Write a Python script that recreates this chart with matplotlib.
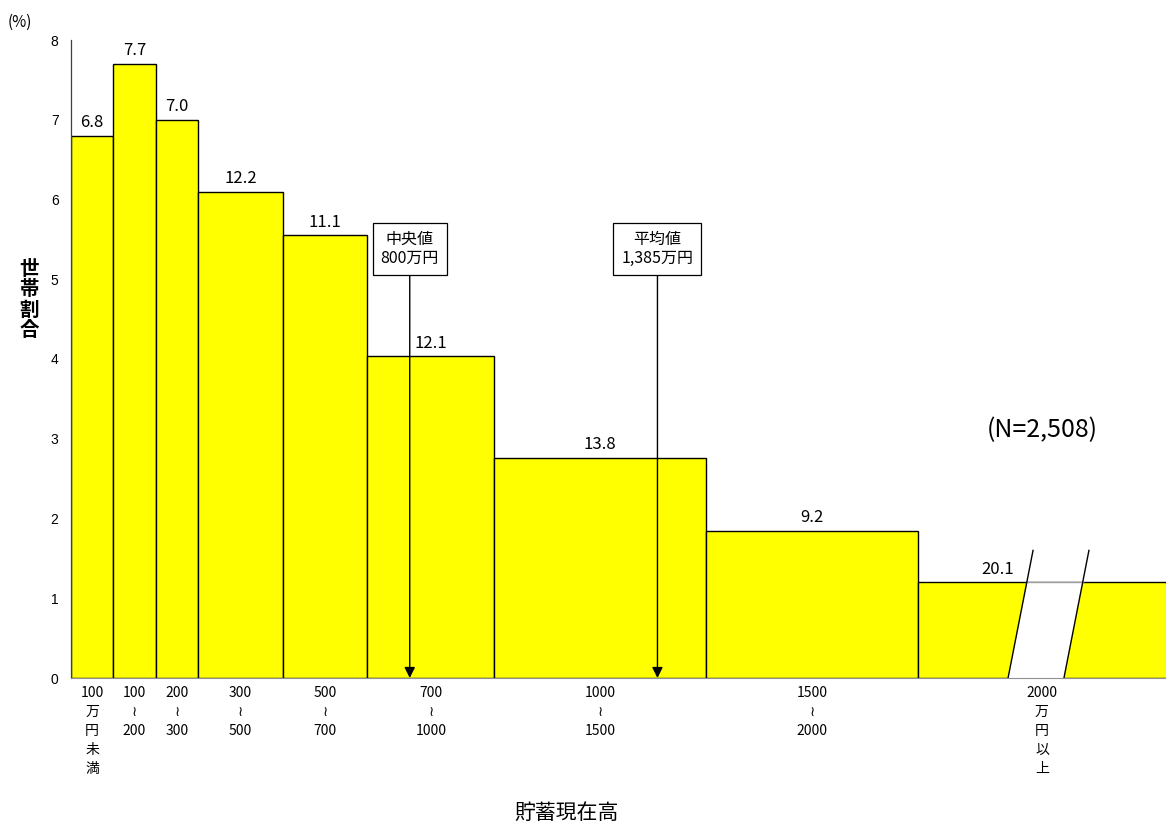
import numpy as np
import matplotlib
matplotlib.use("Agg")
import matplotlib.pyplot as plt
from matplotlib.patches import Polygon

plt.rcParams['font.family'] = ['Noto Sans CJK JP', 'DejaVu Sans']

# 貯蓄現在高の階級（万円）と世帯割合（%）
edges = [0, 100, 200, 300, 500, 700, 1000, 1500, 2000]
shares = [6.8, 7.7, 7.0, 12.2, 11.1, 12.1, 13.8, 9.2, 20.1]
open_width = 1675  # 2000万円以上は開放階級なので見かけの幅で描く
tick_labels = ["100\n万\n円\n未\n満", "100\n≀\n200", "200\n≀\n300",
               "300\n≀\n500", "500\n≀\n700", "700\n≀\n1000",
               "1000\n≀\n1500", "1500\n≀\n2000", "2000\n万\n円\n以\n上"]
median = 800
mean = 1385
n_households = 2508

lefts = np.array(edges, dtype=float)
widths = np.append(np.diff(edges), open_width).astype(float)
heights = np.array(shares) / (widths / 100)  # 100万円あたりの割合

x_end = 2586

fig = plt.figure(figsize=(11.66, 8.25), dpi=100)
ax = fig.add_axes([71 / 1166, 1 - 678 / 825, 1095 / 1166, 638 / 825])

ax.bar(lefts, heights, width=widths, align='edge', color='#ffff00',
       edgecolor='black', linewidth=1.0, zorder=2)

# 値ラベル
bx = 2213      # 省略記号の位置
gap = 132
dx = 59
for i, (l, w, h, s) in enumerate(zip(lefts, widths, heights, shares)):
    if i < len(shares) - 1:
        x = l + w / 2
    else:
        x = bx - 25
    ax.text(x, h + 0.06, f"{s:.1f}", ha='center', va='bottom', fontsize=12)

# 2000万円以上の棒の省略（斜線で切る）
h_last = heights[-1]
k = dx / 1.6
gap_poly = Polygon([(bx, 0), (bx + gap, 0), (bx + gap + k * h_last, h_last),
                    (bx + k * h_last, h_last)], closed=True,
                   facecolor='white', edgecolor='none', zorder=3)
ax.add_patch(gap_poly)
ax.plot([bx + k * h_last, bx + gap + k * h_last], [h_last, h_last],
        color='#a0a0a0', lw=1.0, zorder=3.5)
for x0 in (bx, bx + gap):
    ax.plot([x0, x0 + dx], [0, 1.6], color='black', lw=1.0, zorder=4,
            clip_on=False)

# 中央値・平均値
box = dict(boxstyle='square,pad=0.5', fc='white', ec='black', lw=0.9)
arrow = dict(arrowstyle='-|>', color='black', lw=1.0, mutation_scale=16,
             shrinkA=0, shrinkB=0)
ax.annotate(f"中央値\n{median:,}万円", xy=(median, 0), xytext=(median, 5.38),
            ha='center', va='center', fontsize=11.5, linespacing=1.1,
            bbox=box, arrowprops=arrow, zorder=6)
ax.annotate(f"平均値\n{mean:,}万円", xy=(mean, 0), xytext=(mean, 5.38),
            ha='center', va='center', fontsize=11.5, linespacing=1.1,
            bbox=box, arrowprops=arrow, zorder=6)

ax.text((edges[-1] + x_end) / 2, 3.11, f"(N={n_households:,})",
        ha='center', va='center', fontsize=18)

# 軸
ax.set_xlim(0, x_end)
ax.set_ylim(0, 8)
centers = [l + w / 2 for l, w in zip(lefts[:-1], widths[:-1])]
centers.append((edges[-1] + x_end) / 2)
ax.set_xticks(centers)
ax.set_xticklabels(tick_labels, fontsize=10)
for lab in ax.get_xticklabels():
    lab.set_linespacing(1.45)
ax.set_yticks(range(0, 9))
ax.set_yticklabels([str(v) for v in range(0, 9)], fontsize=10,
                   family='Liberation Sans')
ax.tick_params(axis='x', length=0, pad=6)
ax.tick_params(axis='y', length=0, pad=9)

for side in ('top', 'right'):
    ax.spines[side].set_visible(False)
ax.spines['bottom'].set_color('#909090')
ax.spines['bottom'].set_zorder(5)
ax.spines['left'].set_color('#404040')
ax.spines['left'].set_linewidth(0.9)

fig.text(20 / 1166, 1 - 22 / 825, "(%)", ha='center', va='center', fontsize=11)
fig.text(29 / 1166, 1 - 300 / 825, "世\n帯\n割\n合", ha='center', va='center',
         fontsize=14, fontweight='bold', linespacing=1.1)
fig.text(566 / 1166, 1 - 813 / 825, "貯蓄現在高", ha='center', va='center',
         fontsize=15)

fig.savefig("out.png", dpi=100)
